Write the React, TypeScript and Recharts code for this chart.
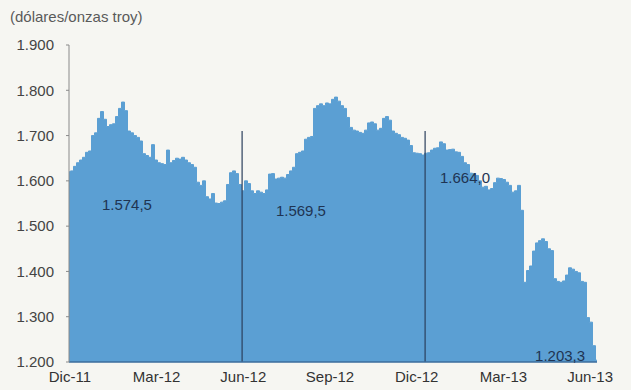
import React from "react";
import {
  AreaChart,
  Area,
  XAxis,
  YAxis,
  ReferenceLine,
  ReferenceDot,
} from "recharts";

// Precio del oro, muestras regulares (aprox. cada 2 sesiones), dic-11 a jun-13
const precio = [
  1620, 1622, 1632, 1640, 1646, 1652, 1663, 1666, 1700, 1706,
  1738, 1753, 1736, 1720, 1724, 1726, 1742, 1760, 1774, 1755,
  1710, 1706, 1700, 1696, 1688, 1660, 1656, 1652, 1680, 1646,
  1640, 1638, 1636, 1668, 1640, 1645, 1650, 1648, 1652, 1646,
  1640, 1636, 1630, 1597, 1590, 1600, 1565, 1560, 1572, 1551,
  1550, 1553, 1556, 1592, 1618, 1622, 1616, 1592, 1578, 1600,
  1594, 1578, 1572, 1578, 1575, 1572, 1580, 1615, 1616, 1604,
  1606, 1608, 1606, 1614, 1622, 1630, 1660, 1663, 1666, 1692,
  1696, 1698, 1760, 1766, 1770, 1766, 1772, 1770, 1780, 1785,
  1776, 1766, 1760, 1740, 1718, 1712, 1710, 1707, 1705, 1712,
  1728, 1730, 1726, 1712, 1716, 1738, 1742, 1734, 1710, 1705,
  1702, 1696, 1694, 1690, 1678, 1662, 1661, 1660, 1657, 1661,
  1662, 1668, 1672, 1673, 1686, 1682, 1668, 1669, 1670, 1664,
  1663, 1654, 1640, 1636, 1617, 1616, 1612, 1600, 1586, 1588,
  1580, 1583, 1596, 1606, 1605, 1603, 1597, 1590, 1575, 1578,
  1590, 1535, 1376, 1402, 1412, 1445, 1463, 1468, 1472, 1466,
  1450, 1446, 1384, 1378, 1376, 1379, 1392, 1408, 1405, 1400,
  1397, 1378, 1376, 1298, 1288, 1236, 1204,
];

const meses = ["Dic-11", "Mar-12", "Jun-12", "Sep-12", "Dic-12", "Mar-13", "Jun-13"];
const mesPos = [0.3, 29.2, 58.1, 87.0, 115.9, 144.8, 173.7];

const yTicks = [1200, 1300, 1400, 1500, 1600, 1700, 1800, 1900];

// separadores de semestre
const cortes = [57.7, 118.7];

// promedios por periodo
const promedios = [
  { texto: "1.574,5", x: 19.3, y: 1547 },
  { texto: "1.569,5", x: 77.3, y: 1535 },
  { texto: "1.664,0", x: 132, y: 1606 },
  { texto: "1.203,3", x: 163.7, y: 1213 },
];

const data = precio.map((p, i) => ({ i, p }));

const fmtMiles = (v: number) => v.toLocaleString("de-DE");
const fmtMes = (v: number) => meses[mesPos.indexOf(v)] ?? "";

const font = "'Liberation Sans', Arial, sans-serif";

export default function App() {
  return (
    <div
      style={{
        position: "absolute",
        left: 0,
        top: 0,
        width: 631,
        height: 390,
        background: "#f6f6f2",
        fontFamily: font,
      }}
    >
      <div
        style={{
          position: "absolute",
          left: 10,
          top: 8,
          fontSize: 15,
          color: "#5a5a5a",
        }}
      >
        (dólares/onzas troy)
      </div>
      <AreaChart
        width={631}
        height={390}
        data={data}
        margin={{ top: 45, right: 34, bottom: 0, left: 0 }}
      >
        <XAxis
          dataKey="i"
          type="number"
          domain={[0, 176]}
          ticks={mesPos}
          tickFormatter={fmtMes}
          height={28}
          tickSize={4}
          tickMargin={5}
          tickLine={false}
          axisLine={{ stroke: "#3b6c9c", strokeWidth: 1.5 }}
          tick={{ fill: "#333", fontSize: 15, fontFamily: font }}
          interval={0}
        />
        <YAxis
          domain={[1200, 1900]}
          ticks={yTicks}
          tickFormatter={fmtMiles}
          width={69}
          tickSize={3}
          tickMargin={12}
          axisLine={{ stroke: "#8a8a8a" }}
          tickLine={{ stroke: "#8a8a8a" }}
          tick={{ fill: "#444", fontSize: 15, fontFamily: font }}
          interval={0}
        />
        <Area
          type="step"
          dataKey="p"
          fill="#5b9fd3"
          fillOpacity={1}
          stroke="#5b9fd3"
          strokeWidth={1}
          baseValue={1200}
          isAnimationActive={false}
        />
        {cortes.map((c) => (
          <ReferenceLine
            key={c}
            segment={[
              { x: c, y: 1200 },
              { x: c, y: 1710 },
            ]}
            stroke="#2b3f5c"
            strokeWidth={1.2}
          />
        ))}
        {promedios.map((d) => (
          <ReferenceDot
            key={d.texto}
            x={d.x}
            y={d.y}
            r={0}
            fill="none"
            stroke="none"
            label={{
              value: d.texto,
              position: "center",
              fill: "#1f3452",
              fontSize: 15,
              fontFamily: font,
            }}
          />
        ))}
      </AreaChart>
    </div>
  );
}
